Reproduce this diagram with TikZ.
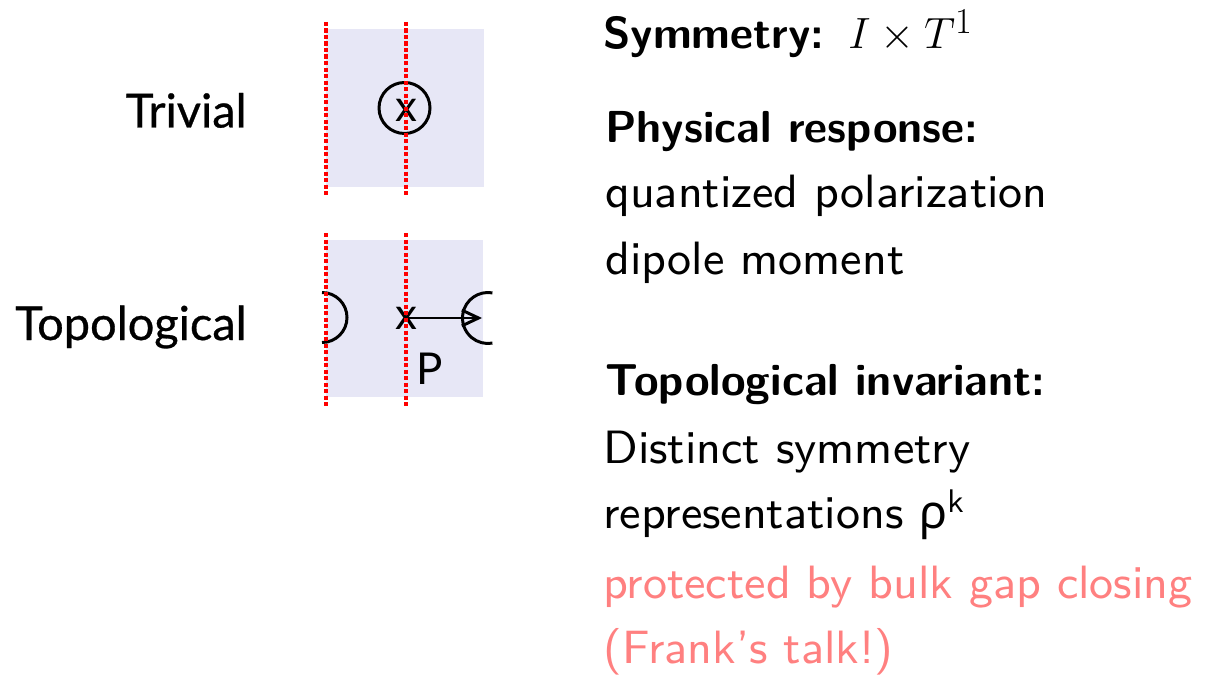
\documentclass[tikz,border=0pt]{standalone}
\usepackage{fontspec}
\usetikzlibrary{arrows.meta}
\newfontfamily\lato{Lato}[FakeBold=0.6]
\newfontfamily\latoreg{Lato}
\newfontfamily\greekfont{Noto Sans}
\newfontfamily\lmreg{lmsans9-regular.otf}
\newfontfamily\lmbold{lmsans10-bold.otf}
\definecolor{boxfill}{RGB}{231,231,246}
\definecolor{pinktext}{RGB}{255,128,128}
\begin{document}
\begin{tikzpicture}[x=0.02cm,y=0.02cm,
  txt/.style={anchor=base west, inner sep=0pt, font=\lmreg\fontsize{26.6}{30}\selectfont},
  bold/.style={anchor=base west, inner sep=0pt, font=\lmbold\fontsize{25.5}{30}\selectfont},
  lbl/.style={anchor=base east, inner sep=0pt, font=\lato\fontsize{26.7}{30}\selectfont},
  xmark/.style={inner sep=0pt, font=\latoreg\fontsize{25}{30}\selectfont},
  redline/.style={red, line width=2.2pt, dash pattern=on 2.4pt off 1.3pt},
  blk/.style={black, line width=1.7pt}]
\useasboundingbox (0,0) rectangle (1212,-675);
% boxes
\fill[boxfill] (326,-29) rectangle (484,-187);
\fill[boxfill] (326,-240) rectangle (483,-396.5);
% left labels
\node[lbl] (triv) at (247,-127.5) {Trivial};
\node[lbl] (topo) at (247,-340) {Topological};
% trivial box content
\node[xmark] (xa) at (406,-110) {x};
\draw[blk] (404.5,-108) circle (25.5);
% topological box content
\node[xmark] (xb) at (406,-318) {x};
\coordinate (tip) at (482,-318);
\draw[blk,-{Straight Barb[length=9.5pt,width=9pt]}] (xb.center) -- (tip);
\draw[blk] (322,-292.5) arc (90:-90:25);
\draw[blk] ([shift={(80:25.5)}]488,-318) arc (80:280:25.5);
\node[xmark, anchor=base west] (P) at (416,-384) {P};
% red dotted lines
\draw[redline] (326,-22) -- (326,-197);
\draw[redline] (406,-22) -- (406,-197);
\draw[redline] (326,-233) -- (326,-408);
\draw[redline] (406,-233) -- (406,-408);
% right column
\node[bold] (sym) at (603,-49) {Symmetry:\hspace{13.5pt}\fontsize{28}{30}\selectfont$I\times T^1$};
\node[bold] (phys) at (605,-143) {Physical response:};
\node[txt] (q) at (605,-208) {quantized polarization};
\node[txt] (d) at (605,-275) {dipole moment};
\node[bold] (ti) at (605,-395) {Topological invariant:};
\node[txt] (ds) at (603,-463) {Distinct symmetry};
\node[txt] (rep) at (603,-528) {representations {\greekfont ρ}\textsuperscript{k}};
\node[txt, text=pinktext] (prot) at (603,-598) {protected by bulk gap closing};
\node[txt, text=pinktext] (fr) at (603,-663) {(Frank’s talk!)};
\end{tikzpicture}
\end{document}
